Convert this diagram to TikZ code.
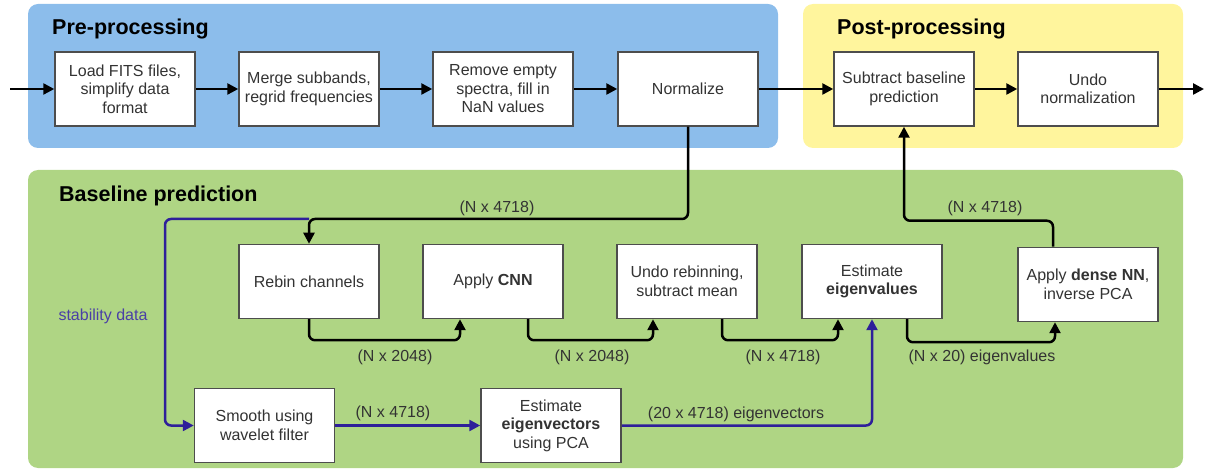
\documentclass[tikz,border=0pt]{standalone}
\usepackage{fontspec}
\setmainfont{Liberation Sans}
\usetikzlibrary{arrows.meta,calc}
\definecolor{panelblue}{HTML}{8CBDEB}
\definecolor{panelyellow}{HTML}{FFF59D}
\definecolor{panelgreen}{HTML}{AFD584}
\definecolor{boxgray}{HTML}{4D4D4D}
\definecolor{txtgray}{HTML}{333333}
\definecolor{indigo}{HTML}{2E1F9A}
\definecolor{stabtxt}{HTML}{4A3FA6}
\begin{document}
\begin{tikzpicture}[x=1pt,y=-1pt,
  panel/.style={rounded corners=10pt, draw=none},
  title/.style={anchor=base west, font=\bfseries\fontsize{21.5}{24}\selectfont, text=black, inner sep=0pt},
  box/.style={draw=boxgray, line width=1.5pt, fill=white, minimum width=140pt, minimum height=74pt,
    align=center, inner sep=2pt, text=txtgray, font=\fontsize{16}{18.5}\selectfont},
  conn/.style={line width=2.5pt, draw=black, rounded corners=6pt, -{Triangle[length=11pt,width=11pt]}},
  bconn/.style={line width=2.5pt, draw=indigo, rounded corners=6pt, -{Triangle[length=11pt,width=11pt]}},
  lbl/.style={text=txtgray, font=\fontsize{16}{18.5}\selectfont, inner sep=0pt}
]
\useasboundingbox (0,0) rectangle (1205,470);
% panels
\fill[panel, panelblue] (28,4) rectangle (778,148);
\fill[panel, panelyellow] (803,4) rectangle (1183,148);
\fill[panel, panelgreen] (28,170) rectangle (1183,468);
% titles
\node[title] (t1) at (52,35) {Pre-processing};
\node[title] (t2) at (837,35) {Post-processing};
\node[title] (t3) at (59,202) {Baseline prediction};
% top row
\node[box] (b1) at (125,89) {Load FITS files,\\simplify data\\format};
\node[box] (b2) at (309,89) {Merge subbands,\\regrid frequencies};
\node[box] (b3) at (503,89) {Remove empty\\spectra, fill in\\NaN values};
\node[box] (b4) at (688,89) {Normalize};
\node[box] (b5) at (904,89) {Subtract baseline\\prediction};
\node[box] (b6) at (1088,89) {Undo\\normalization};
% middle row
\node[box] (rebin) at (309,281.5) {Rebin channels};
\node[box] (cnn) at (493,281.5) {Apply \textbf{CNN}};
\node[box] (undo) at (687,281.5) {Undo rebinning,\\subtract mean};
\node[box] (eigval) at (872,281.5) {Estimate\\\textbf{eigenvalues}};
\node[box] (dnn) at (1088,284.5) {Apply \textbf{dense NN},\\inverse PCA};
% bottom row
\node[box] (smooth) at (264.5,425.5) {Smooth using\\wavelet filter};
\node[box] (eigvec) at (551,425.5) {Estimate\\\textbf{eigenvectors}\\using PCA};
% coordinates
\coordinate (in) at (10,89);
\coordinate (out) at (1204,89);
\coordinate (split) at (rebin.north |- 0,219);
\coordinate (bl) at (165,219);
% top connectors
\draw[conn] (in) -- (b1);
\draw[conn] (b1) -- (b2);
\draw[conn] (b2) -- (b3);
\draw[conn] (b3) -- (b4);
\draw[conn] (b4) -- (b5);
\draw[conn] (b5) -- (b6);
\draw[conn] (b6) -- (out);
% blue stability path
\draw[bconn] (split) -- (bl) |- (smooth);
\draw[bconn] (smooth) -- (eigvec);
\draw[bconn] (eigvec.east) -| (eigval.south);
% black middle
\draw[conn] (b4.south) |- (split) -- (rebin.north);
\draw[conn] (rebin.south) -- ++(0,21) -| ([xshift=-33pt]cnn.south);
\draw[conn] ([xshift=35pt]cnn.south) -- ++(0,21) -| ([xshift=-34pt]undo.south);
\draw[conn] ([xshift=35pt]undo.south) -- ++(0,21) -| ([xshift=-34pt]eigval.south);
\draw[conn] ([xshift=35pt]eigval.south) -- ++(0,23) -| ([xshift=-33pt]dnn.south);
\draw[conn] ([xshift=-35pt]dnn.north) -- ++(0,-26) -| (b5.south);
% labels
\node[lbl] (l1) at (497,208) {(N x 4718)};
\node[lbl] (l2) at (395,357) {(N x 2048)};
\node[lbl] (l3) at (592,357) {(N x 2048)};
\node[lbl] (l4) at (783,357) {(N x 4718)};
\node[lbl] (l5) at (982,357) {(N x 20) eigenvalues};
\node[lbl] (l6) at (985,208) {(N x 4718)};
\node[lbl] (l7) at (393,413) {(N x 4718)};
\node[lbl] (l8) at (736,414) {(20 x 4718) eigenvectors};
\node[lbl, text=stabtxt] (l9) at (103,316) {stability data};
\end{tikzpicture}
\end{document}
